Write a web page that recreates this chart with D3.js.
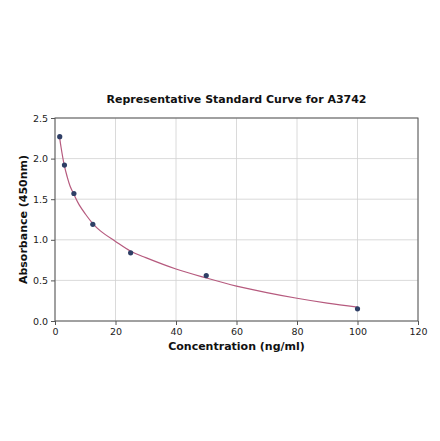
<!DOCTYPE html>
<html>
<head>
<meta charset="utf-8">
<script src="https://cdn.jsdelivr.net/npm/d3@7"></script>
<style>
  body { margin: 0; background: #fff; }
  text { font-family: 'DejaVu Sans', sans-serif; }
  .tick text { font-size: 9.5px; fill: #222; }
  .axis-label { font-size: 11px; font-weight: bold; fill: #111; }
  .title { font-size: 11px; font-weight: bold; fill: #111; }
</style>
</head>
<body>
<svg width="440" height="441"></svg>
<script>
// standard points
const concentrations = [1.5625, 3.125, 6.25, 12.5, 25, 50, 100];
const absorbances = [2.27, 1.92, 1.57, 1.19, 0.84, 0.56, 0.15];

// fitted curve
const curveX = [1.5625, 2, 3, 4, 5, 6.25, 8, 10, 12.5, 15, 20, 25, 30, 40, 50, 60, 70, 80, 90, 100];
const curveY = [2.25, 2.14, 1.93, 1.78, 1.66, 1.56, 1.43, 1.32, 1.20, 1.11, 0.98, 0.86, 0.78, 0.64, 0.53, 0.43, 0.35, 0.28, 0.22, 0.17];

const xTicks = [0, 20, 40, 60, 80, 100, 120];
const yTicks = [0.0, 0.5, 1.0, 1.5, 2.0, 2.5];

const svg = d3.select('svg');
const margin = { top: 118, right: 22, bottom: 120, left: 55 };
const innerWidth = 440 - margin.left - margin.right;
const innerHeight = 441 - margin.top - margin.bottom;

const xScale = d3.scaleLinear().domain([0, 120]).range([0, innerWidth]);
const yScale = d3.scaleLinear().domain([0, 2.5]).range([innerHeight, 0]);

const g = svg.append('g')
  .attr('transform', `translate(${margin.left},${margin.top})`);

// grid
g.append('g')
  .selectAll('line')
  .data(xTicks)
  .join('line')
    .attr('x1', d => xScale(d)).attr('x2', d => xScale(d))
    .attr('y1', 0).attr('y2', innerHeight)
    .attr('stroke', '#d0d0d0').attr('stroke-width', 0.8);
g.append('g')
  .selectAll('line')
  .data(yTicks)
  .join('line')
    .attr('x1', 0).attr('x2', innerWidth)
    .attr('y1', d => yScale(d)).attr('y2', d => yScale(d))
    .attr('stroke', '#d0d0d0').attr('stroke-width', 0.8);

const xAxis = d3.axisBottom(xScale).tickValues(xTicks).tickFormat(d3.format('d')).tickSize(4).tickPadding(3);
const yAxis = d3.axisLeft(yScale).tickValues(yTicks).tickFormat(d3.format('.1f')).tickSize(4).tickPadding(3);

const xAxisG = g.append('g')
  .attr('transform', `translate(0,${innerHeight})`)
  .call(xAxis);
const yAxisG = g.append('g').call(yAxis);
[xAxisG, yAxisG].forEach(a => {
  a.select('.domain').remove();
  a.selectAll('.tick line').attr('stroke', '#555');
});

// frame
g.append('rect')
  .attr('width', innerWidth).attr('height', innerHeight)
  .attr('fill', 'none').attr('stroke', '#555').attr('stroke-width', 1);

// curve
const curveData = curveX.map((x, i) => [x, curveY[i]]);
const lineGenerator = d3.line()
  .x(d => xScale(d[0]))
  .y(d => yScale(d[1]))
  .curve(d3.curveCatmullRom.alpha(0.5));
g.append('path')
  .attr('d', lineGenerator(curveData))
  .attr('fill', 'none')
  .attr('stroke', '#b65a7e')
  .attr('stroke-width', 1.2);

// points
g.selectAll('circle')
  .data(concentrations.map((x, i) => [x, absorbances[i]]))
  .join('circle')
    .attr('cx', d => xScale(d[0]))
    .attr('cy', d => yScale(d[1]))
    .attr('r', 2.6)
    .attr('fill', '#2f3f66');

// labels
svg.append('text')
  .attr('class', 'title')
  .attr('x', margin.left + innerWidth / 2)
  .attr('y', 103)
  .attr('text-anchor', 'middle')
  .text('Representative Standard Curve for A3742');

svg.append('text')
  .attr('class', 'axis-label')
  .attr('x', margin.left + innerWidth / 2)
  .attr('y', 350)
  .attr('text-anchor', 'middle')
  .text('Concentration (ng/ml)');

svg.append('text')
  .attr('class', 'axis-label')
  .attr('transform', `translate(27,${margin.top + innerHeight / 2}) rotate(-90)`)
  .attr('text-anchor', 'middle')
  .text('Absorbance (450nm)');
</script>
</body>
</html>
